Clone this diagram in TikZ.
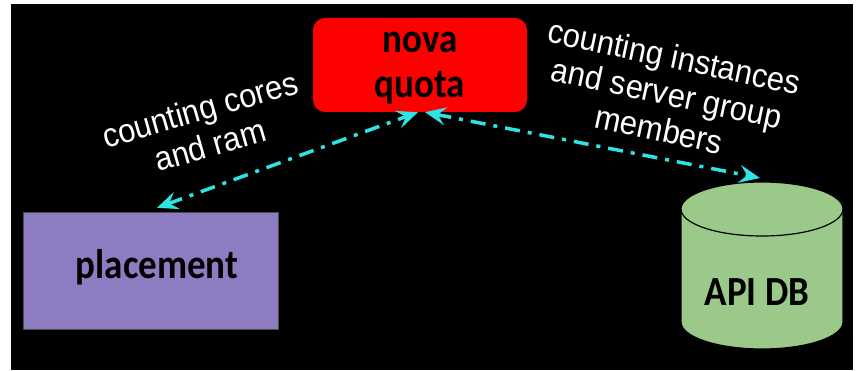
\documentclass[tikz,border=0pt]{standalone}
\usepackage{fontspec}
\setmainfont{Carlito}
\newfontfamily\labelfont{Liberation Sans}
\usetikzlibrary{arrows.meta}
\definecolor{quotared}{HTML}{FF0000}
\definecolor{placepurple}{HTML}{8E7CC3}
\definecolor{dbgreen}{HTML}{9BC98A}
\definecolor{linkcyan}{HTML}{2EE3E3}
% slightly tall lettering
\newcommand\tallword[1]{\scalebox{1}[1.12]{#1}}
\newcommand\tallnote[1]{\scalebox{1}[1.08]{#1}}
\begin{document}
\begin{tikzpicture}[x=1pt,y=1pt,
  boxtext/.style={font=\fontsize{37}{45}\selectfont\bfseries, text=black, align=center},
  note/.style={font=\labelfont\fontsize{31}{37}\selectfont, text=white, align=center},
  link/.style={draw=linkcyan, line width=3.5pt,
    dash pattern=on 15pt off 8pt on 4pt off 8pt,
    {Stealth[length=21pt,width=18pt,inset=8pt]}-{Stealth[length=21pt,width=18pt,inset=8pt]}}
]
% page and dark backdrop
\fill[white] (0,0) rectangle (856,370);
\fill[black] (11,0) rectangle (853,366);
\useasboundingbox (0,0) rectangle (856,370);

% quota service
\node[fill=quotared, rounded corners=12pt, minimum width=214pt, minimum height=94pt]
  (quota) at (420,305) {};
\node[boxtext] (quotatext) at (420,302) {\tallword{nova}\\\tallword{quota}};

% placement service
\node[fill=placepurple, draw=black!70, minimum width=255pt, minimum height=117pt]
  (placement) at (150.5,99.5) {};
\node[boxtext] (placementtext) at (157,103) {\tallword{placement}};

% API database cylinder
\fill[dbgreen] (681,161) -- (681,48)
  arc[start angle=180, end angle=360, x radius=81, y radius=27]
  -- (843,161) arc[start angle=0, end angle=180, x radius=81, y radius=27] -- cycle;
\draw[line width=1.2pt] (681,161) -- (681,48)
  arc[start angle=180, end angle=360, x radius=81, y radius=27] -- (843,161);
\draw[line width=1.2pt] (762,161) ellipse[x radius=81, y radius=27];
\node[boxtext] (apidb) at (757,78) {\tallword{API DB}};
\coordinate (dbtop) at (762,188);

% counting links
\draw[link] ([shift={(6.5pt,4pt)}]placement.north) -- ([xshift=-2pt]quota.south);
\draw[link] ([xshift=5pt]quota.south) -- ([shift={(-2pt,4pt)}]dbtop);

% link labels
\node[note, rotate=16] (coreslabel) at (205,243)
  {\tallnote{counting cores}\\\tallnote{and ram}};
\node[note, rotate=-12] (instlabel) at (667,277)
  {\tallnote{counting instances}\\\tallnote{and server group}\\\tallnote{members}};
\end{tikzpicture}
\end{document}
